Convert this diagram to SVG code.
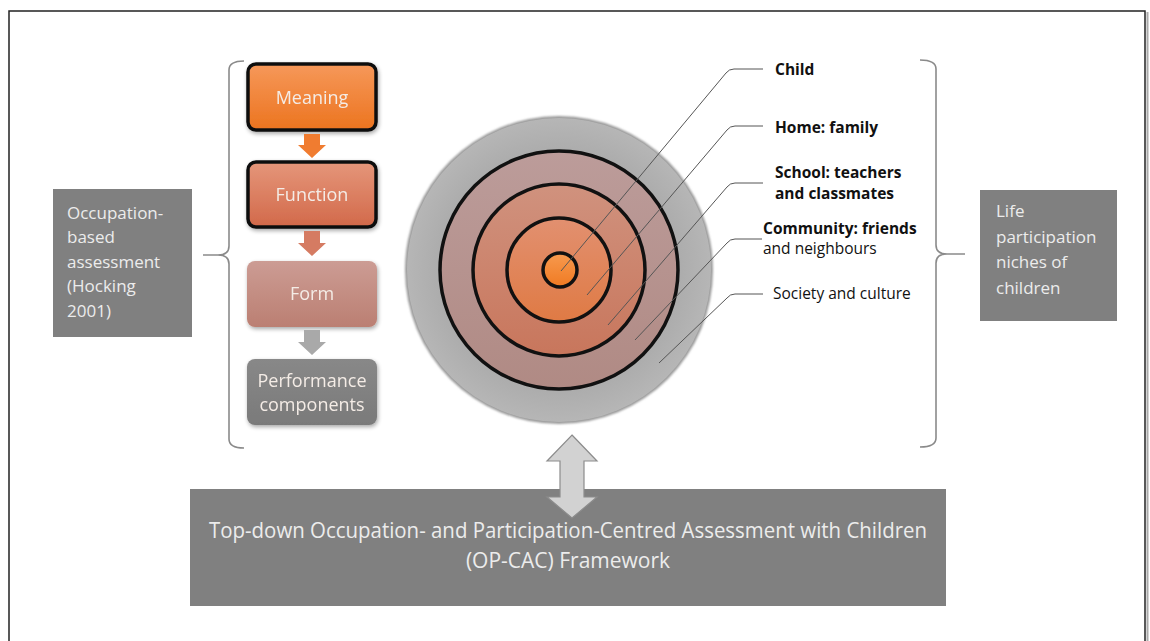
<svg xmlns="http://www.w3.org/2000/svg" width="1150" height="641" viewBox="0 0 1150 641">
<defs>
<style>
.t{font-family:"Open Sans","Liberation Sans",sans-serif;}
.wt{fill:#f4ece6;text-anchor:middle;font-size:18px;}
.gt{fill:#ececec;font-size:17px;}
.lbl{fill:#111;font-size:15.5px;}
.b{font-weight:bold;}
.lead{fill:none;stroke:#555;stroke-width:1;}
.brace{fill:none;stroke:#8a8a8a;stroke-width:1.6;}
.ring{stroke:#111;stroke-width:3.5;}
</style>
<linearGradient id="gMeaning" x1="0" y1="0" x2="0" y2="1"><stop offset="0" stop-color="#f6985a"/><stop offset="1" stop-color="#ec741f"/></linearGradient>
<linearGradient id="gFunction" x1="0" y1="0" x2="0" y2="1"><stop offset="0" stop-color="#e5967a"/><stop offset="1" stop-color="#d2694a"/></linearGradient>
<linearGradient id="gForm" x1="0" y1="0" x2="0" y2="1"><stop offset="0" stop-color="#cc9c94"/><stop offset="1" stop-color="#bb7f72"/></linearGradient>
<linearGradient id="gPerf" x1="0" y1="0" x2="0" y2="1"><stop offset="0" stop-color="#888"/><stop offset="1" stop-color="#7a7a7a"/></linearGradient>
<radialGradient id="gOuter" cx="0.5" cy="0.5" r="0.5"><stop offset="0.7" stop-color="#a8a8a8"/><stop offset="1" stop-color="#b6b6b6"/></radialGradient>
<linearGradient id="gR4" x1="0" y1="0" x2="0" y2="1"><stop offset="0" stop-color="#bc9c9a"/><stop offset="1" stop-color="#b08a84"/></linearGradient>
<linearGradient id="gR3" x1="0" y1="0" x2="0" y2="1"><stop offset="0" stop-color="#d0927e"/><stop offset="1" stop-color="#c8765c"/></linearGradient>
<linearGradient id="gR2" x1="0" y1="0" x2="0" y2="1"><stop offset="0" stop-color="#e29070"/><stop offset="1" stop-color="#df7a44"/></linearGradient>
<linearGradient id="gR1" x1="0" y1="0" x2="0" y2="1"><stop offset="0" stop-color="#f79a4f"/><stop offset="1" stop-color="#f07a22"/></linearGradient>
<filter id="sh" x="-10%" y="-10%" width="130%" height="130%"><feGaussianBlur in="SourceAlpha" stdDeviation="2"/><feOffset dx="1" dy="2"/><feComponentTransfer><feFuncA type="linear" slope="0.35"/></feComponentTransfer><feMerge><feMergeNode/><feMergeNode in="SourceGraphic"/></feMerge></filter>
<filter id="soft" x="-5%" y="-5%" width="110%" height="110%"><feGaussianBlur stdDeviation="1.2"/></filter>
</defs>

<rect x="0" y="0" width="1150" height="641" fill="#ffffff"/>
<g id="frame">
<rect x="9" y="11" width="1136" height="660" fill="#ffffff" stroke="#222" stroke-width="1.5"/>
<line x1="1147.5" y1="12" x2="1147.5" y2="641" stroke="#aaa" stroke-width="2"/>
</g>

<g id="left-box">
<rect x="53" y="189" width="139" height="148" fill="#808080"/>
<text class="t gt" x="67" y="219">Occupation-</text>
<text class="t gt" x="67" y="243">based</text>
<text class="t gt" x="67" y="268">assessment</text>
<text class="t gt" x="67" y="292">(Hocking</text>
<text class="t gt" x="67" y="317">2001)</text>
</g>

<g id="right-box">
<rect x="980" y="190" width="137" height="131" fill="#808080"/>
<text class="t gt" x="996" y="217">Life</text>
<text class="t gt" x="996" y="243">participation</text>
<text class="t gt" x="996" y="268">niches of</text>
<text class="t gt" x="996" y="294">children</text>
</g>

<g id="braces">
<path class="brace" d="M244,61 Q229,61 229,70 V246 Q229,255 218,255 H203 M218,255 Q229,255 229,264 V439 Q229,448 244,448"/>
<path class="brace" d="M920,60 Q936,60 936,69 V245 Q936,254 947,254 H965 M947,254 Q936,254 936,263 V438 Q936,447 920,447"/>
</g>

<g id="meaning" filter="url(#sh)">
<rect x="248" y="64" width="128" height="66" rx="8" fill="url(#gMeaning)" stroke="#111" stroke-width="3.5"/>
<text class="t wt" x="312" y="104">Meaning</text>
</g>
<g id="function" filter="url(#sh)">
<rect x="248" y="162" width="128" height="65" rx="8" fill="url(#gFunction)" stroke="#111" stroke-width="3.5"/>
<text class="t wt" x="312" y="201">Function</text>
</g>
<g id="form" filter="url(#sh)">
<rect x="247" y="261" width="130" height="66" rx="8" fill="url(#gForm)"/>
<text class="t wt" x="312" y="300">Form</text>
</g>
<g id="performance" filter="url(#sh)">
<rect x="247" y="359" width="130" height="66" rx="8" fill="url(#gPerf)"/>
<text class="t wt" x="312" y="387" fill="#ececec">Performance</text>
<text class="t wt" x="312" y="411" fill="#ececec">components</text>
</g>

<g id="target">
<circle cx="559" cy="270" r="154" fill="#9a9a9a" filter="url(#soft)"/>
<circle cx="559" cy="270" r="152" fill="url(#gOuter)"/>
<circle class="ring" cx="559" cy="270" r="119" fill="url(#gR4)"/>
<circle class="ring" cx="559" cy="270" r="86" fill="url(#gR3)"/>
<circle class="ring" cx="559" cy="270" r="52" fill="url(#gR2)"/>
<circle class="ring" cx="560" cy="270" r="17" fill="url(#gR1)"/>
</g>

<g id="leaders">
<path class="lead" d="M561,271 L726,73 Q729,69 734,69 L763,69"/>
<path class="lead" d="M587,295 L727,130 Q730,126 735,126 L763,126"/>
<path class="lead" d="M608,325 L727,187 Q730,183 735,183 L763,183"/>
<path class="lead" d="M635,340 L727,243 Q730,239 735,239 L762,239"/>
<path class="lead" d="M659,363 L727,298 Q730,294 735,294 L763,294"/>
</g>

<g id="labels">
<text class="t lbl b" x="775" y="75">Child</text>
<text class="t lbl b" x="775" y="133">Home: family</text>
<text class="t lbl b" x="775" y="178">School: teachers</text>
<text class="t lbl b" x="775" y="199">and classmates</text>
<text class="t lbl b" x="763" y="234" font-size="13.5">Community: friends</text>
<text class="t lbl" x="763" y="254" font-size="14">and neighbours</text>
<text class="t lbl" x="773" y="299" font-size="14.5">Society and culture</text>
</g>

<g id="framework">
<rect x="190" y="489" width="756" height="117" fill="#808080"/>
<text class="t" x="568" y="538" fill="#ececec" font-size="21" text-anchor="middle" textLength="718" lengthAdjust="spacingAndGlyphs">Top-down Occupation- and Participation-Centred Assessment with Children</text>
<text class="t" x="568" y="568" fill="#ececec" font-size="21" text-anchor="middle">(OP-CAC) Framework</text>
</g>

<g id="connectors">
<polygon points="304,134 320,134 320,145 326,145 312,158 298,145 304,145" fill="#f07c30"/>
<polygon points="304,231 320,231 320,243 326,243 312,256 298,243 304,243" fill="#d57b62"/>
<polygon points="304,330 320,330 320,342 326,342 312,355 298,342 304,342" fill="#a9a9a9"/>
<polygon points="572,435 597,461 584,461 584,497 597,497 572,518 547,497 560,497 560,461 547,461" fill="#d2d2d2" stroke="#8c8c8c" stroke-width="1.2"/>
</g>
</svg>
